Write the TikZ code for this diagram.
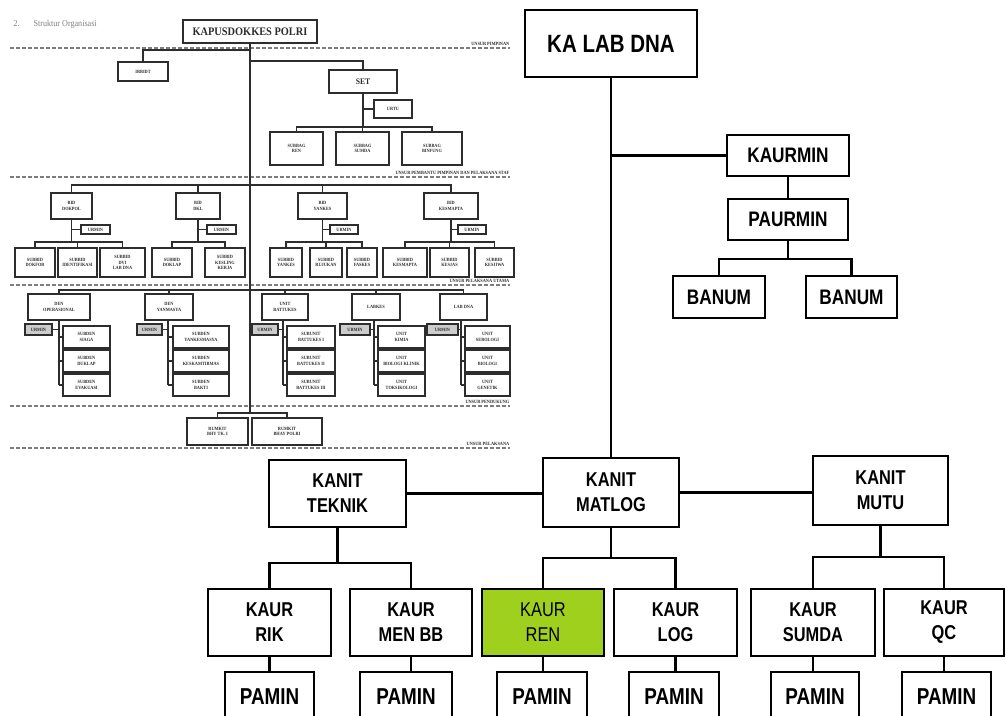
\documentclass[tikz,border=0pt]{standalone}
\usepackage{fontspec}
\setmainfont[FakeStretch=0.82]{Liberation Sans}
\newfontfamily\insetfont[FakeStretch=0.9]{Liberation Serif}
\definecolor{rengreen}{RGB}{160,208,30}
\definecolor{inkgray}{RGB}{45,45,45}
\definecolor{dashgray}{RGB}{125,125,125}
% box from corner (x1,y1) to corner (x2,y2), y measured downwards
\newcommand{\orgbox}[7]{\node[#1,minimum width={(#5-#3)*1pt},minimum height={(#6-#4)*1pt}] (#2) at ({(#3+#5)/2},{(#4+#6)/2}) {#7};}
\tikzset{
  mainbox/.style={draw=black,line width=2.8pt,fill=white,inner sep=0pt,align=center,
    font=\bfseries\fontsize{20}{25}\selectfont},
  mainline/.style={draw=black,line width=2.6pt},
  ibox/.style={draw=inkgray,line width=1.4pt,fill=white,inner sep=0pt,align=center,
    text=inkgray,font=\insetfont\bfseries\fontsize{4.8}{5.6}\selectfont},
  urbox/.style={ibox,fill=gray!40},
  iline/.style={draw=inkgray,line width=1.1pt},
  bandline/.style={draw=dashgray,line width=1.2pt,dash pattern=on 4pt off 2pt},
  bandlabel/.style={anchor=south east,inner sep=0.5pt,text=inkgray,
    font=\insetfont\bfseries\fontsize{4.8}{5}\selectfont},
}
\begin{document}
\begin{tikzpicture}[x=1pt,y=-1pt]
\clip (0,0) rectangle (1006,715);
\fill[white] (0,0) rectangle (1006,715);

% ---------------- Pusdokkes organisation chart (left) ----------------
\node[anchor=west,text=gray,font=\insetfont\fontsize{9}{10}\selectfont] (hdr) at (10,24)
  {2.\hspace{14pt}Struktur Organisasi};

% band separators and their labels
\foreach \yy in {48,177,285,406,448} \draw[bandline] (10,\yy) -- (510,\yy);
\node[bandlabel] (lb1) at (510,46) {UNSUR PIMPINAN};
\node[bandlabel] (lb2) at (510,175) {UNSUR PEMBANTU PIMPINAN DAN PELAKSANA STAF};
\node[bandlabel] (lb3) at (510,283) {UNSUR PELAKSANA UTAMA};
\node[bandlabel] (lb4) at (510,404) {UNSUR PENDUKUNG};
\node[bandlabel] (lb5) at (510,446) {UNSUR PELAKSANA};

% top level
\orgbox{ibox,font=\insetfont\bfseries\fontsize{11.5}{12}\selectfont,line width=1.6pt}{kapus}{183}{20}{317}{43}{KAPUSDOKKES POLRI}
\orgbox{ibox}{irbidt}{118}{62}{168}{81}{IRBIDT}
\orgbox{ibox,font=\insetfont\bfseries\fontsize{8.5}{9}\selectfont}{set}{329}{70}{397}{93}{SET}
\orgbox{ibox}{urtu}{374}{100}{412}{118}{URTU}
\orgbox{ibox}{sbren}{270}{132}{323}{165}{SUBBAG\\REN}
\orgbox{ibox}{sbsumda}{336}{132}{389}{165}{SUBBAG\\SUMDA}
\orgbox{ibox}{sbbin}{402}{132}{462}{165}{SUBBAG\\BINFUNG}

\coordinate (trunkend) at (250,413);
\draw[iline,line width=1.5pt] (kapus.south) -- (trunkend);
\draw[iline] (kapus.south |- 0,50) -| (irbidt.north);
\draw[iline] (kapus.south |- 0,61) -| (set.north);
\draw[iline] (set.south) -- (set.south |- 0,127);
\draw[iline] (set.south |- urtu.west) -- (urtu.west);
\draw[iline] (sbren.north) |- (set.south |- 0,127) -| (sbbin.north);
\draw[iline] (sbsumda.north) -- (sbsumda.north |- 0,127);

% bidang level
\orgbox{ibox}{dokpol}{51}{193}{92}{219}{BID\\DOKPOL}
\orgbox{ibox}{dkl}{176}{193}{220}{219}{BID\\DKL}
\orgbox{ibox}{yankes}{298}{193}{347}{219}{BID\\YANKES}
\orgbox{ibox}{kesmapta}{424}{193}{478}{219}{BID\\KESMAPTA}
\draw[iline] (dokpol.north) |- (kapus.south |- 0,185) -| (kesmapta.north);
\draw[iline] (dkl.north) -- (dkl.north |- 0,185);
\draw[iline] (yankes.north) -- (yankes.north |- 0,185);

\orgbox{ibox}{urA}{81}{225}{110}{234}{URMIN}
\orgbox{ibox}{urB}{207}{225}{236}{234}{URMIN}
\orgbox{ibox}{urC}{330}{225}{358}{234}{URMIN}
\orgbox{ibox}{urD}{458}{225}{486}{234}{URMIN}

\orgbox{ibox}{sA1}{15}{248}{55}{277}{SUBBID\\DOKFOR}
\orgbox{ibox}{sA2}{58}{248}{97}{277}{SUBBID\\IDENTIFIKASI}
\orgbox{ibox}{sA3}{100}{248}{145}{277}{SUBBID\\DVI\\LAB DNA}
\orgbox{ibox}{sB1}{152}{248}{192}{277}{SUBBID\\DOKLAP}
\orgbox{ibox}{sB2}{205}{248}{245}{277}{SUBBID\\KESLING\\KERJA}
\orgbox{ibox}{sC1}{270}{248}{302}{277}{SUBBID\\YANKES}
\orgbox{ibox}{sC2}{310}{248}{342}{277}{SUBBID\\RUJUKAN}
\orgbox{ibox}{sC3}{347}{248}{377}{277}{SUBBID\\FASKES}
\orgbox{ibox}{sD1}{383}{248}{427}{277}{SUBBID\\KESMAPTA}
\orgbox{ibox}{sD2}{430}{248}{469}{277}{SUBBID\\KESJAS}
\orgbox{ibox}{sD3}{475}{248}{514}{277}{SUBBID\\KESJIWA}

\draw[iline] (dokpol.south) -- (dokpol.south |- 0,242);
\draw[iline] (dokpol.south |- urA.west) -- (urA.west);
\draw[iline] (sA1.north) |- (dokpol.south |- 0,242) -| (sA3.north);
\draw[iline] (sA2.north) -- (sA2.north |- 0,242);
\draw[iline] (dkl.south) -- (dkl.south |- 0,242);
\draw[iline] (dkl.south |- urB.west) -- (urB.west);
\draw[iline] (sB1.north) |- (dkl.south |- 0,242) -| (sB2.north);
\draw[iline] (yankes.south) -- (yankes.south |- 0,242);
\draw[iline] (yankes.south |- urC.west) -- (urC.west);
\draw[iline] (sC1.north) |- (yankes.south |- 0,242) -| (sC3.north);
\draw[iline] (sC2.north) -- (sC2.north |- 0,242);
\draw[iline] (kesmapta.south) -- (kesmapta.south |- 0,242);
\draw[iline] (kesmapta.south |- urD.west) -- (urD.west);
\draw[iline] (sD1.north) |- (kesmapta.south |- 0,242) -| (sD3.north);
\draw[iline] (sD2.north) -- (sD2.north |- 0,242);

% pelaksana utama level
\orgbox{ibox}{u1}{28}{294}{90}{320}{DEN\\OPERASIONAL}
\orgbox{ibox}{u2}{145}{294}{193}{320}{DEN\\YANMASYA}
\orgbox{ibox}{u3}{262}{294}{308}{320}{UNIT\\BATTUKES}
\orgbox{ibox}{u4}{352}{294}{400}{320}{LABKES}
\orgbox{ibox}{u5}{440}{294}{487}{320}{LAB DNA}
\draw[iline] (u1.north) |- (kapus.south |- 0,290) -| (u5.north);
\draw[iline] (u2.north) -- (u2.north |- 0,290);
\draw[iline] (u3.north) -- (u3.north |- 0,290);
\draw[iline] (u4.north) -- (u4.north |- 0,290);

\foreach \n/\ax/\bx/\sx/\cx/\dx/\la/\lb/\lc in {
  1/25/52/59/63/110/{SUBDEN\\SIAGA}/{SUBDEN\\DUKLAP}/{SUBDEN\\EVAKUASI},
  2/137/162/168/173/229/{SUBDEN\\YANKESMASYA}/{SUBDEN\\KESKAMTIBMAS}/{SUBDEN\\BAKTI},
  3/252/278/283/287/335/{SUBUNIT\\BATTUKES I}/{SUBUNIT\\BATTUKES II}/{SUBUNIT\\BATTUKES III},
  4/340/370/374/378/425/{UNIT\\KIMIA}/{UNIT\\BIOLOGI KLINIK}/{UNIT\\TOKSIKOLOGI},
  5/427/458/461/465/510/{UNIT\\SEROLOGI}/{UNIT\\BIOLOGI}/{UNIT\\GENETIK}}{
  \orgbox{urbox}{ur\n}{\ax}{324}{\bx}{335}{URMIN}
  \orgbox{ibox}{st\n a}{\cx}{326}{\dx}{348}{\la}
  \orgbox{ibox}{st\n b}{\cx}{350}{\dx}{372}{\lb}
  \orgbox{ibox}{st\n c}{\cx}{374}{\dx}{396}{\lc}
  \coordinate (stem\n) at (\sx,320);
  \draw[iline] (stem\n) -- (\sx,385);
  \draw[iline] (ur\n.east) -- (stem\n |- ur\n.east);
  \draw[iline] (stem\n |- st\n a.west) -- (st\n a.west);
  \draw[iline] (stem\n |- st\n b.west) -- (st\n b.west);
  \draw[iline] (stem\n |- st\n c.west) -- (st\n c.west);
}

% pelaksana level
\orgbox{ibox}{rs1}{187}{418}{248}{445}{RUMKIT\\BHY TK. I}
\orgbox{ibox}{rs2}{252}{418}{322}{445}{RUMKIT\\BHAY POLRI}
\draw[iline] (rs1.north) |- (trunkend) -| (rs2.north);

% ---------------- Lab DNA organisation chart (right) ----------------
\orgbox{mainbox,font=\bfseries\fontsize{25}{28}\selectfont}{kalab}{525}{10}{697}{77}{KA LAB DNA}
\orgbox{mainbox,font=\bfseries\fontsize{21}{25}\selectfont}{kaurmin}{727}{135}{849}{176}{KAURMIN}
\orgbox{mainbox,font=\bfseries\fontsize{21}{25}\selectfont}{paurmin}{728}{199}{848}{240}{PAURMIN}
\orgbox{mainbox,font=\bfseries\fontsize{21}{25}\selectfont}{banumA}{673}{276}{765}{318}{BANUM}
\orgbox{mainbox,font=\bfseries\fontsize{21}{25}\selectfont}{banumB}{806}{276}{897}{318}{BANUM}

\orgbox{mainbox}{teknik}{269}{460}{406}{527}{KANIT\\TEKNIK}
\orgbox{mainbox}{matlog}{543}{458}{679}{527}{KANIT\\MATLOG}
\orgbox{mainbox}{mutu}{813}{456}{948}{525}{KANIT\\MUTU}

\orgbox{mainbox}{rik}{208}{589}{331}{656}{KAUR\\RIK}
\orgbox{mainbox}{menbb}{350}{589}{472}{656}{KAUR\\MEN BB}
\orgbox{mainbox,fill=rengreen,font=\fontsize{20}{25}\selectfont}{ren}{482}{589}{604}{656}{KAUR\\REN}
\orgbox{mainbox}{log}{614}{589}{737}{656}{KAUR\\LOG}
\orgbox{mainbox}{sumda}{751}{589}{875}{656}{KAUR\\SUMDA}
\orgbox{mainbox}{qc}{884}{589}{1004}{656}{KAUR\\QC}

\foreach \n/\xa/\xb in {1/225/314,2/360/452,3/497/587,4/629/719,5/771/859,6/902/991}{
  \orgbox{mainbox,font=\bfseries\fontsize{23}{25}\selectfont}{pamin\n}{\xa}{672}{\xb}{722}{PAMIN}
}

\draw[mainline] (kalab.south) -- (matlog.north);
\draw[mainline] (kalab.south |- kaurmin.west) -- (kaurmin.west);
\draw[mainline] (kaurmin.south) -- (paurmin.north);
\coordinate (pfork) at (788,259);
\draw[mainline] (paurmin.south) -- (paurmin.south |- pfork);
\draw[mainline] (banumA.north) |- (paurmin.south |- pfork) -| (banumB.north);

\draw[mainline] (teknik.east) -- (teknik.east -| matlog.west);
\draw[mainline] (matlog.east) -- (matlog.east -| mutu.west);

\coordinate (tfork) at (338,563);
\coordinate (mfork) at (611,558);
\coordinate (ufork) at (881,557);
\draw[mainline] (teknik.south) -- (teknik.south |- tfork);
\draw[mainline] (rik.north) |- (teknik.south |- tfork) -| (menbb.north);
\draw[mainline] (matlog.south) -- (matlog.south |- mfork);
\draw[mainline] (ren.north) |- (matlog.south |- mfork) -| (log.north);
\draw[mainline] (mutu.south) -- (mutu.south |- ufork);
\draw[mainline] (sumda.north) |- (mutu.south |- ufork) -| (qc.north);

\draw[mainline] (rik.south) -- (rik.south |- pamin1.north);
\draw[mainline] (menbb.south) -- (menbb.south |- pamin2.north);
\draw[mainline] (ren.south) -- (ren.south |- pamin3.north);
\draw[mainline] (log.south) -- (log.south |- pamin4.north);
\draw[mainline] (sumda.south) -- (sumda.south |- pamin5.north);
\draw[mainline] (qc.south) -- (qc.south |- pamin6.north);
\end{tikzpicture}
\end{document}
